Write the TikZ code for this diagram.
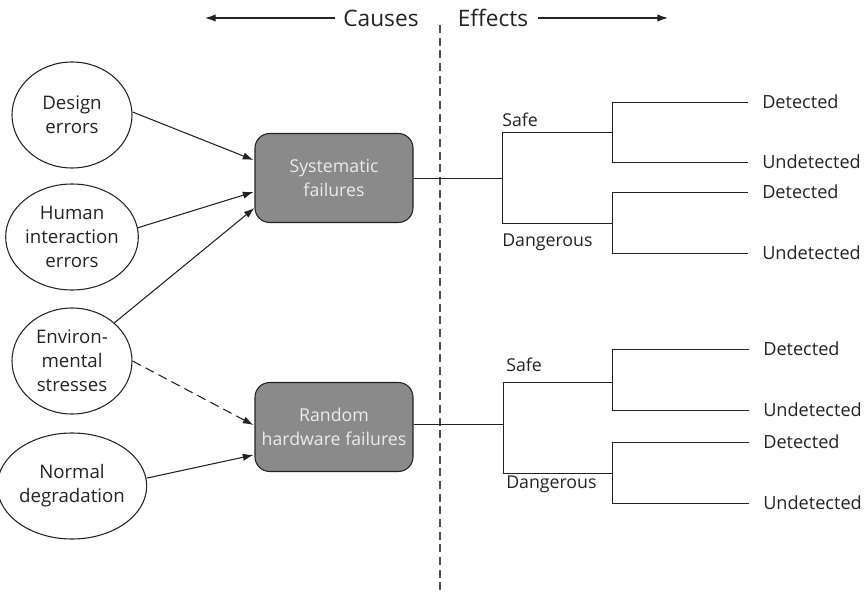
\documentclass[tikz,border=0pt]{standalone}
\usepackage{fontspec}
\setmainfont{Open Sans}
\usetikzlibrary{shapes.geometric,arrows.meta,calc}
\definecolor{boxgray}{RGB}{138,138,138}
\definecolor{ink}{RGB}{35,35,35}
\definecolor{boxtext}{RGB}{235,235,235}
\begin{document}
\begin{tikzpicture}[x=0.75pt,y=-0.75pt,
  cause/.style={ellipse, draw=ink, line width=0.8pt, minimum width=90pt, minimum height=79.5pt, inner sep=0pt, align=center, text=ink, font=\fontsize{14}{18}\selectfont},
  failbox/.style={rounded corners=11pt, draw=ink, line width=0.8pt, fill=boxgray, minimum width=118.5pt, minimum height=66.75pt, inner sep=0pt, align=center, text=boxtext, font=\fontsize{13.3}{17.5}\selectfont},
  arr/.style={-{Latex[length=8pt,width=5.5pt]}, line width=0.8pt, draw=ink},
  tree/.style={line width=0.7pt, draw=ink},
  branchlab/.style={anchor=west, inner sep=0pt, text=ink, font=\fontsize{13.3}{17}\selectfont},
  leaflab/.style={anchor=west, inner xsep=10.5pt, inner ysep=0pt, text=ink, font=\fontsize{13.6}{17}\selectfont},
  headlab/.style={inner sep=0pt, text=ink, font=\fontsize{17}{20}\selectfont},
  divider/.style={line width=0.8pt, draw=ink!80, dash pattern=on 6pt off 3.5pt}
]
\useasboundingbox (0,0) rectangle (866,595);

% header
\node[headlab] (causes) at (381,18) {Causes};
\node[headlab] (effects) at (493,18) {Effects};
\coordinate (cl) at (205,18);
\coordinate (er) at (668,18);
\draw[arr] ($(causes.west)+(-8,0)$) -- (cl);
\draw[arr] ($(effects.east)+(10,0)$) -- (er);

% divider
\coordinate (dtop) at (440,25);
\coordinate (dbot) at (440,595);
\draw[divider] (dtop) -- (dbot);

% causes
\node[cause] (des) at (72,115) {Design\\errors};
\node[cause] (hum) at (72,237) {Human\\interaction\\errors};
\node[cause] (env) at (72,361) {Environ-\\mental\\stresses};
\node[cause] (nor) at (72,486) {Normal\\degradation};

% failures
\node[failbox] (sys) at (334,178) {Systematic\\failures};
\node[failbox] (rnd) at (334,427) {Random\\hardware failures};

\draw[arr] (des.east) ++(0,-3) -- ($(sys.west)+(-1,-18)$);
\draw[arr] (hum.8) -- ($(sys.west)+(-1,14)$);
\draw[arr] (env.42) -- ($(sys.west)+(0,30)$);
\draw[arr, dashed, dash pattern=on 7pt off 4pt] (env.east) -- ($(rnd.west)+(-1,-2)$);
\draw[arr] (nor.6) -- ($(rnd.west)+(-1,28)$);

% upper tree
\coordinate (b1) at (502,178);
\coordinate (s1) at (502,132);
\coordinate (g1) at (502,223);
\coordinate (s1r) at (612,132);
\coordinate (g1r) at (612,223);
\node[branchlab] (safe1) at (502,120) {Safe};
\node[branchlab] (dang1) at (502,242) {Dangerous};
\node[leaflab] (d1) at (748,102) {Detected};
\node[leaflab] (u1) at (748,162) {Undetected};
\node[leaflab] (d2) at (748,192) {Detected};
\node[leaflab] (u2) at (748,253) {Undetected};
\draw[tree] (sys.east) -- (b1);
\draw[tree] (s1) -- (g1);
\draw[tree] (s1) -- (s1r);
\draw[tree] (g1) -- (g1r);
\draw[tree] (d1.west -| s1r) -- (u1.west -| s1r);
\draw[tree] (d1.west -| s1r) -- (d1.west);
\draw[tree] (u1.west -| s1r) -- (u1.west);
\draw[tree] (d2.west -| g1r) -- (u2.west -| g1r);
\draw[tree] (d2.west -| g1r) -- (d2.west);
\draw[tree] (u2.west -| g1r) -- (u2.west);

% lower tree
\coordinate (b2) at (503,424);
\coordinate (s2) at (503,382);
\coordinate (g2) at (503,473);
\coordinate (s2r) at (612,382);
\coordinate (g2r) at (612,473);
\node[branchlab] (safe2) at (506,365) {Safe};
\node[branchlab] (dang2) at (506,484) {Dangerous};
\node[leaflab] (d3) at (749,349) {Detected};
\node[leaflab] (u3) at (749,410) {Undetected};
\node[leaflab] (d4) at (749,442) {Detected};
\node[leaflab] (u4) at (749,503) {Undetected};
\draw[tree] (rnd.east |- b2) -- (b2);
\draw[tree] (s2) -- (g2);
\draw[tree] (s2) -- (s2r);
\draw[tree] (g2) -- (g2r);
\draw[tree] (d3.west -| s2r) -- (u3.west -| s2r);
\draw[tree] (d3.west -| s2r) -- (d3.west);
\draw[tree] (u3.west -| s2r) -- (u3.west);
\draw[tree] (d4.west -| g2r) -- (u4.west -| g2r);
\draw[tree] (d4.west -| g2r) -- (d4.west);
\draw[tree] (u4.west -| g2r) -- (u4.west);
\end{tikzpicture}
\end{document}
